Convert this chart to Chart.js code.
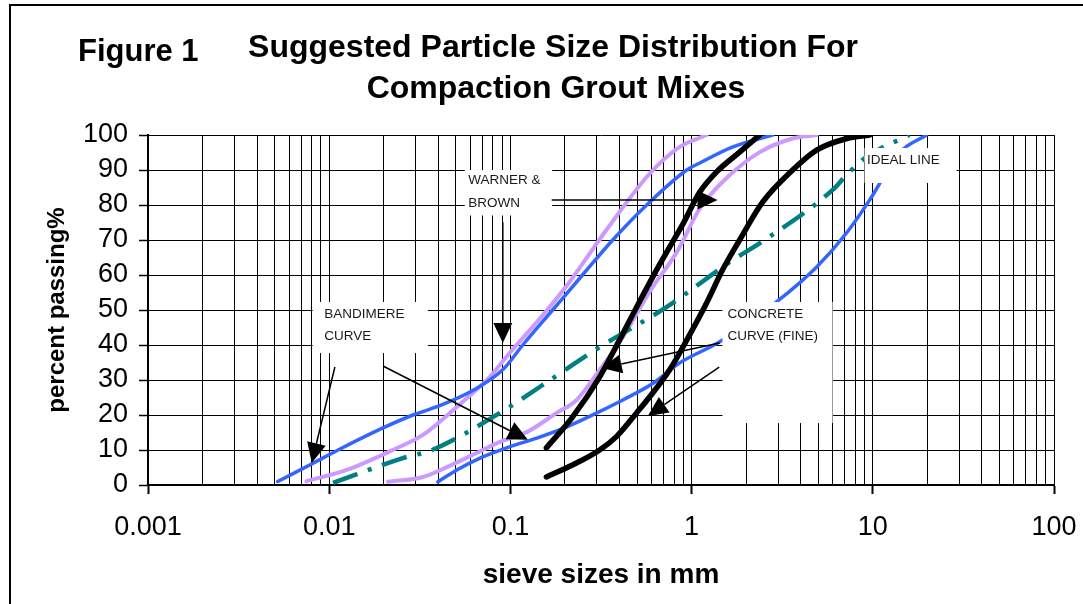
<!DOCTYPE html>
<html>
<head>
<meta charset="utf-8">
<script src="https://cdn.jsdelivr.net/npm/chart.js@4.4.0/dist/chart.umd.min.js"></script>
<style>
  html, body { margin: 0; padding: 0; background: #fff; }
  #wrap { width: 1083px; height: 604px; }
</style>
</head>
<body>
<div id="wrap"><canvas id="grading" width="1083" height="604"></canvas></div>
<script>
// sieve size (mm) / percent passing
const blueUpperSize = [0.0052, 0.0082, 0.0112, 0.0198, 0.029, 0.039, 0.062, 0.091, 0.117, 0.171, 0.25, 0.367, 0.565, 0.94, 1.11, 1.69, 2.8];
const blueUpperPass = [1, 6.3, 10, 16.3, 20, 22.3, 27, 33, 40, 50, 60, 70, 80, 90, 92, 96.6, 100];

const purpleUpperSize = [0.0075, 0.0125, 0.0224, 0.0329, 0.0506, 0.077, 0.099, 0.145, 0.205, 0.34, 0.588, 0.86, 1.21];
const purpleUpperPass = [1.1, 4.3, 10, 14.3, 22.3, 30.9, 37.7, 47.5, 57, 73, 89, 96.6, 100];

const idealSize = [0.0105, 0.0255, 0.037, 0.0875, 0.145, 0.311, 0.73, 1.69, 2.38, 6.0, 7.17, 9.2, 15.9];
const idealPass = [0.6, 7.7, 10, 20.6, 28, 39.4, 50.9, 64.3, 69.1, 84.3, 88.6, 93.7, 100];

const purpleLowerSize = [0.0211, 0.033, 0.0446, 0.062, 0.0875, 0.123, 0.18, 0.232, 0.311, 0.419, 0.6, 0.83, 1.11, 1.56, 2.38, 3.61, 4.9];
const purpleLowerPass = [0.9, 2.3, 5.1, 8.6, 12.3, 15.1, 20.6, 24.3, 32.9, 42.4, 56, 66.6, 79, 87.7, 95.1, 99, 100];

const blueLowerSize = [0.0398, 0.0506, 0.068, 0.099, 0.14, 0.205, 0.3, 0.417, 0.61, 0.86, 1.43, 2.94, 4.9, 7.16, 9.6, 14, 19.8];
const blueLowerPass = [0.9, 4.3, 7.7, 10.9, 13.4, 16.6, 20.6, 24.3, 29, 34.9, 40.9, 52.3, 62.3, 72, 81.4, 94.9, 100];

const blackUpperSize = [0.158, 0.22, 0.311, 0.4, 0.497, 0.64, 0.73, 0.89, 1.11, 1.37, 1.84, 2.38];
const blackUpperPass = [10.6, 19.4, 30.9, 41.4, 50.8, 61.4, 66.6, 74.3, 83.7, 89.4, 95.1, 100];

const blackLowerSize = [0.158, 0.22, 0.311, 0.386, 0.497, 0.61, 0.757, 0.94, 1.21, 1.48, 1.84, 2.47, 3.61, 4.9, 7.2, 9.6];
const blackLowerPass = [2.3, 5.7, 10, 13.9, 20.6, 26.3, 32.9, 41.4, 52, 61.4, 70, 80.9, 90, 95.7, 99, 100];

// axis ticks
const decadeLabels = [0.001, 0.01, 0.1, 1, 10, 100];
const passTicks = [0, 10, 20, 30, 40, 50, 60, 70, 80, 90, 100];

// text boxes and arrows, placed in data units
const noteBoxes = [
  { x0: 0.056, x1: 0.17, y0: 77, y1: 90, tx: 0.0585, ty: [87.1, 80.6], lines: ['WARNER &', 'BROWN'] },
  { x0: 0.0081, x1: 0.035, y0: 37.7, y1: 52.3, tx: 0.0094, ty: [48.9, 42.6], lines: ['BANDIMERE', 'CURVE'] },
  { x0: 1.48, x1: 6.0, y0: 17.7, y1: 52.3, tx: 1.58, ty: [48.9, 42.6], lines: ['CONCRETE', 'CURVE (FINE)'] },
  { x0: 9.0, x1: 29, y0: 86.3, y1: 96.3, tx: 9.3, ty: [92.9], lines: ['IDEAL LINE'] }
];
const arrows = [
  { from: [0.169, 81.4], to: [1.39, 81.4] },
  { from: [0.0908, 75.1], to: [0.0908, 40.6] },
  { from: [0.01075, 33.7], to: [0.00801, 6.3] },
  { from: [0.0198, 34], to: [0.1248, 12.9] },
  { from: [1.43, 40.6], to: [0.319, 33.4] },
  { from: [1.42, 33.7], to: [0.573, 19.7] }
];

const FONT = '"Liberation Sans", Arial, Helvetica, sans-serif';

function points(xs, ys) {
  return xs.map((v, i) => ({ x: v, y: ys[i] }));
}
function isDecade(v) {
  const l = Math.log10(v);
  return Math.abs(l - Math.round(l)) < 1e-9;
}
// gridlines at 1..9 of every decade
function logGrid() {
  const out = [];
  for (let d = 0; d < decadeLabels.length; d++) {
    const base = decadeLabels[d];
    if (d === decadeLabels.length - 1) { out.push(base); break; }
    for (let m = 1; m < 10; m++) out.push(+(base * m).toPrecision(6));
  }
  return out;
}

function curve(label, xs, ys, color, width, order, dash) {
  return {
    label: label,
    data: points(xs, ys),
    borderColor: color,
    borderWidth: width,
    borderDash: dash || [],
    borderCapStyle: dash ? 'butt' : 'round',
    pointRadius: 0,
    fill: false,
    cubicInterpolationMode: 'monotone',
    order: order
  };
}

const overlay = {
  id: 'overlay',
  afterDatasetsDraw(chart) {
    const ctx = chart.ctx;
    const x = chart.scales.x, y = chart.scales.y;
    ctx.save();
    noteBoxes.forEach(b => {
      const l = x.getPixelForValue(b.x0), r = x.getPixelForValue(b.x1);
      const t = y.getPixelForValue(b.y1), bt = y.getPixelForValue(b.y0);
      ctx.fillStyle = '#ffffff';
      ctx.fillRect(l, t, r - l, bt - t);
      ctx.fillStyle = '#1a1a1a';
      ctx.font = '13.5px ' + FONT;
      ctx.textAlign = 'left';
      ctx.textBaseline = 'middle';
      b.lines.forEach((s, i) => ctx.fillText(s, x.getPixelForValue(b.tx), y.getPixelForValue(b.ty[i])));
    });
    ctx.strokeStyle = '#000';
    ctx.fillStyle = '#000';
    ctx.lineWidth = 1.5;
    arrows.forEach(a => {
      const x1 = x.getPixelForValue(a.from[0]), y1 = y.getPixelForValue(a.from[1]);
      const x2 = x.getPixelForValue(a.to[0]), y2 = y.getPixelForValue(a.to[1]);
      const ang = Math.atan2(y2 - y1, x2 - x1);
      const len = 20, half = 9.5;
      const bx = x2 - len * Math.cos(ang), by = y2 - len * Math.sin(ang);
      ctx.beginPath();
      ctx.moveTo(x1, y1);
      ctx.lineTo(bx, by);
      ctx.stroke();
      ctx.beginPath();
      ctx.moveTo(x2, y2);
      ctx.lineTo(bx + half * Math.sin(ang), by - half * Math.cos(ang));
      ctx.lineTo(bx - half * Math.sin(ang), by + half * Math.cos(ang));
      ctx.closePath();
      ctx.fill();
    });
    ctx.restore();
  },
  afterDraw(chart) {
    const ctx = chart.ctx;
    ctx.save();
    // outer frame (only left and top edges fall inside the picture)
    ctx.strokeStyle = '#000';
    ctx.lineWidth = 2;
    ctx.beginPath();
    ctx.moveTo(10, 610);
    ctx.lineTo(10, 5);
    ctx.lineTo(1090, 5);
    ctx.stroke();
    ctx.fillStyle = '#000';
    ctx.textBaseline = 'alphabetic';
    ctx.font = 'bold 31px ' + FONT;
    ctx.textAlign = 'left';
    ctx.fillText('Figure 1', 78, 61);
    ctx.font = 'bold 32px ' + FONT;
    ctx.textAlign = 'center';
    ctx.fillText('Suggested Particle Size Distribution For', 553, 57);
    ctx.fillText('Compaction Grout Mixes', 556, 98);
    ctx.restore();
  }
};

new Chart(document.getElementById('grading'), {
  type: 'line',
  data: {
    datasets: [
      curve('Bandimere (coarse)', blueUpperSize, blueUpperPass, '#3366ff', 3.5, 4),
      curve('Warner & Brown (fine)', purpleUpperSize, purpleUpperPass, '#cc99ff', 4, 5),
      curve('Ideal line', idealSize, idealPass, '#008080', 4.5, 3, [26, 11, 4, 11]),
      curve('Warner & Brown (coarse)', purpleLowerSize, purpleLowerPass, '#cc99ff', 4, 5),
      curve('Bandimere (fine)', blueLowerSize, blueLowerPass, '#3366ff', 3.5, 4),
      curve('Concrete fine (upper)', blackUpperSize, blackUpperPass, '#000000', 5.5, 1),
      curve('Concrete fine (lower)', blackLowerSize, blackLowerPass, '#000000', 5.5, 1)
    ]
  },
  options: {
    responsive: false,
    animation: false,
    events: [],
    layout: { padding: { left: 0, top: 135, right: 29, bottom: 8 } },
    plugins: { legend: { display: false }, tooltip: { enabled: false } },
    scales: {
      x: {
        type: 'logarithmic',
        min: 0.001,
        max: 100,
        afterBuildTicks: s => { s.ticks = logGrid().map(v => ({ value: v })); },
        afterFit: s => { s.height = 111; s.paddingLeft = 0; s.paddingRight = 0; },
        ticks: {
          autoSkip: false,
          maxRotation: 0,
          color: '#000',
          padding: 17,
          font: { family: FONT, size: 27 },
          callback: v => (isDecade(v) ? String(decadeLabels.find(d => Math.abs(d - v) < d * 1e-6)) : '')
        },
        grid: {
          color: '#000',
          lineWidth: 1,
          tickLength: 9,
          tickWidth: 2,
          tickColor: c => (c.tick && isDecade(c.tick.value) ? '#000' : 'rgba(0,0,0,0)')
        },
        border: { display: true, color: '#000', width: 2 },
        title: {
          display: true,
          text: 'sieve sizes in mm',
          color: '#000',
          padding: { top: 0, bottom: 4 },
          font: { family: FONT, size: 28, weight: 'bold' }
        }
      },
      y: {
        min: 0,
        max: 100,
        afterBuildTicks: s => { s.ticks = passTicks.map(v => ({ value: v })); },
        afterFit: s => { s.width = 148; s.paddingTop = 0; s.paddingBottom = 0; },
        ticks: {
          autoSkip: false,
          color: '#000',
          padding: 11,
          font: { family: FONT, size: 27 }
        },
        grid: { color: '#000', lineWidth: 1, tickLength: 9, tickWidth: 1.5, tickColor: '#000' },
        border: { display: true, color: '#000', width: 2 },
        title: {
          display: true,
          text: 'percent passing%',
          color: '#000',
          padding: { top: 42.6, bottom: 0 },
          font: { family: FONT, size: 24, weight: 'bold' }
        }
      }
    }
  },
  plugins: [overlay]
});
</script>
</body>
</html>
